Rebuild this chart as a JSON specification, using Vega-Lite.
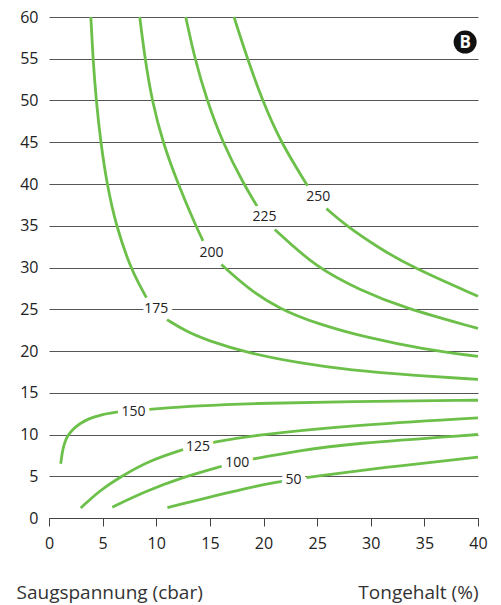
{
  "$schema": "https://vega.github.io/schema/vega-lite/v6.json",
  "width": 429,
  "height": 501,
  "autosize": {"type": "none"},
  "padding": {"left": 49, "top": 17, "right": 23, "bottom": 87},
  "background": "white",
  "config": {"view": {"stroke": null}, "font": "Open Sans"},
  "datasets": {
    "curves": [
      {"seg": "175a", "x": 3.9, "y": 60}, {"seg": "175a", "x": 4.1, "y": 55}, {"seg": "175a", "x": 4.4, "y": 50}, {"seg": "175a", "x": 4.82, "y": 45}, {"seg": "175a", "x": 5.4, "y": 40}, {"seg": "175a", "x": 6.25, "y": 35}, {"seg": "175a", "x": 7.6, "y": 30}, {"seg": "175a", "x": 8.4, "y": 28.0}, {"seg": "175a", "x": 9.08, "y": 26.4},
      {"seg": "175b", "x": 11.0, "y": 23.76}, {"seg": "175b", "x": 12.7, "y": 22.4}, {"seg": "175b", "x": 14.67, "y": 21.3}, {"seg": "175b", "x": 18.7, "y": 19.7}, {"seg": "175b", "x": 23.4, "y": 18.55}, {"seg": "175b", "x": 28, "y": 17.7}, {"seg": "175b", "x": 34.3, "y": 17.05}, {"seg": "175b", "x": 40, "y": 16.6},
      {"seg": "200a", "x": 8.46, "y": 60}, {"seg": "200a", "x": 8.95, "y": 55}, {"seg": "200a", "x": 9.6, "y": 50}, {"seg": "200a", "x": 10.6, "y": 45}, {"seg": "200a", "x": 12.03, "y": 40}, {"seg": "200a", "x": 13.68, "y": 35}, {"seg": "200a", "x": 14.36, "y": 33.2},
      {"seg": "200b", "x": 16.07, "y": 30.35}, {"seg": "200b", "x": 18.7, "y": 27.3}, {"seg": "200b", "x": 21.5, "y": 25.05}, {"seg": "200b", "x": 24.9, "y": 23.3}, {"seg": "200b", "x": 29.6, "y": 21.6}, {"seg": "200b", "x": 35, "y": 20.2}, {"seg": "200b", "x": 40, "y": 19.35},
      {"seg": "225a", "x": 12.75, "y": 60}, {"seg": "225a", "x": 13.59, "y": 55}, {"seg": "225a", "x": 14.73, "y": 50}, {"seg": "225a", "x": 16.17, "y": 45}, {"seg": "225a", "x": 18.15, "y": 40}, {"seg": "225a", "x": 19.4, "y": 37.35},
      {"seg": "225b", "x": 21.05, "y": 34.55}, {"seg": "225b", "x": 24.9, "y": 30}, {"seg": "225b", "x": 29.0, "y": 27.3}, {"seg": "225b", "x": 33.0, "y": 25.2}, {"seg": "225b", "x": 40, "y": 22.7},
      {"seg": "250a", "x": 17.25, "y": 60}, {"seg": "250a", "x": 18.5, "y": 55}, {"seg": "250a", "x": 19.9, "y": 50}, {"seg": "250a", "x": 21.6, "y": 45}, {"seg": "250a", "x": 24.1, "y": 39.8},
      {"seg": "250b", "x": 25.87, "y": 37.05}, {"seg": "250b", "x": 27.7, "y": 35}, {"seg": "250b", "x": 30.8, "y": 32.3}, {"seg": "250b", "x": 33.9, "y": 30}, {"seg": "250b", "x": 40, "y": 26.55},
      {"seg": "150a", "x": 1.09, "y": 6.5}, {"seg": "150a", "x": 1.2, "y": 7.5}, {"seg": "150a", "x": 1.31, "y": 8.35}, {"seg": "150a", "x": 1.5, "y": 9.2}, {"seg": "150a", "x": 1.77, "y": 9.9}, {"seg": "150a", "x": 2.2, "y": 10.6}, {"seg": "150a", "x": 2.86, "y": 11.3}, {"seg": "150a", "x": 3.7, "y": 11.9}, {"seg": "150a", "x": 4.73, "y": 12.35}, {"seg": "150a", "x": 6.43, "y": 12.7},
      {"seg": "150b", "x": 9.08, "y": 12.98}, {"seg": "150b", "x": 14.05, "y": 13.46}, {"seg": "150b", "x": 18.7, "y": 13.72}, {"seg": "150b", "x": 28, "y": 13.95}, {"seg": "150b", "x": 40, "y": 14.1},
      {"seg": "125a", "x": 2.96, "y": 1.2}, {"seg": "125a", "x": 4.73, "y": 3.3}, {"seg": "125a", "x": 6.75, "y": 5}, {"seg": "125a", "x": 9.39, "y": 6.9}, {"seg": "125a", "x": 12.5, "y": 8.2},
      {"seg": "125b", "x": 15.1, "y": 9.0}, {"seg": "125b", "x": 18.7, "y": 9.85}, {"seg": "125b", "x": 28, "y": 11.1}, {"seg": "125b", "x": 40, "y": 12.0},
      {"seg": "100a", "x": 5.9, "y": 1.3}, {"seg": "100a", "x": 9.0, "y": 3.2}, {"seg": "100a", "x": 12.5, "y": 4.9}, {"seg": "100a", "x": 16.1, "y": 6.2},
      {"seg": "100b", "x": 18.7, "y": 7.0}, {"seg": "100b", "x": 23.4, "y": 8.1}, {"seg": "100b", "x": 28, "y": 8.9}, {"seg": "100b", "x": 40, "y": 10.0},
      {"seg": "50a", "x": 11.04, "y": 1.25}, {"seg": "50a", "x": 18.7, "y": 3.7}, {"seg": "50a", "x": 21.8, "y": 4.4},
      {"seg": "50b", "x": 24.0, "y": 4.84}, {"seg": "50b", "x": 31.1, "y": 6.04}, {"seg": "50b", "x": 40, "y": 7.3}
    ],
    "labels": [
      {"label": "50", "x": 22.8, "y": 4.5},
      {"label": "100", "x": 17.55, "y": 6.6},
      {"label": "125", "x": 13.9, "y": 8.5},
      {"label": "150", "x": 7.87, "y": 12.75},
      {"label": "175", "x": 10.0, "y": 25.0},
      {"label": "200", "x": 15.14, "y": 31.7},
      {"label": "225", "x": 20.1, "y": 36.0},
      {"label": "250", "x": 25.1, "y": 38.5}
    ],
    "badge": [{"x": 38.8, "y": 57.0, "t": "B"}]
  },
  "layer": [
    {
      "data": {"name": "curves"},
      "mark": {"type": "line", "interpolate": "basis", "color": "#6cc04a", "strokeWidth": 2.8},
      "encoding": {
        "x": {
          "field": "x", "type": "quantitative",
          "scale": {"domain": [0, 40], "nice": false},
          "axis": {
            "values": [0, 5, 10, 15, 20, 25, 30, 35, 40],
            "grid": false, "domain": true, "domainColor": "#444", "domainWidth": 1,
            "ticks": true, "tickSize": 8, "tickColor": "#444",
            "labelFontSize": 16, "labelColor": "#222", "labelPadding": 9, "labelFlush": false,
            "title": "Tongehalt (%)", "titleFontSize": 19, "titleFontWeight": "normal", "titleColor": "#333",
            "titleAlign": "right", "titleX": 429, "titleY": 80, "titleBaseline": "alphabetic"
          }
        },
        "y": {
          "field": "y", "type": "quantitative",
          "scale": {"domain": [0, 60], "nice": false},
          "axis": {
            "values": [0, 5, 10, 15, 20, 25, 30, 35, 40, 45, 50, 55, 60],
            "grid": true, "gridColor": "#555", "gridWidth": 1,
            "domain": false, "ticks": false,
            "labelFontSize": 16, "labelColor": "#222", "labelPadding": 11,
            "title": "Saugspannung (cbar)", "titleAngle": 0, "titleAlign": "left", "titleBaseline": "alphabetic",
            "titleX": -33, "titleY": 581, "titleFontSize": 19, "titleFontWeight": "normal", "titleColor": "#333"
          }
        },
        "detail": {"field": "seg", "type": "nominal"}
      }
    },
    {
      "data": {"name": "labels"},
      "mark": {"type": "text", "fill": "white", "stroke": "white", "strokeWidth": 9, "strokeJoin": "round", "fontSize": 14, "baseline": "middle", "align": "center"},
      "encoding": {
        "x": {"field": "x", "type": "quantitative"},
        "y": {"field": "y", "type": "quantitative"},
        "text": {"field": "label"}
      }
    },
    {
      "data": {"name": "labels"},
      "mark": {"type": "text", "fill": "#222", "fontSize": 14, "baseline": "middle", "align": "center"},
      "encoding": {
        "x": {"field": "x", "type": "quantitative"},
        "y": {"field": "y", "type": "quantitative"},
        "text": {"field": "label"}
      }
    },
    {
      "data": {"name": "badge"},
      "mark": {"type": "point", "shape": "circle", "filled": true, "color": "#111", "opacity": 1, "size": 531},
      "encoding": {
        "x": {"field": "x", "type": "quantitative"},
        "y": {"field": "y", "type": "quantitative"}
      }
    },
    {
      "data": {"name": "badge"},
      "mark": {"type": "text", "color": "white", "fontWeight": "bold", "fontSize": 17, "baseline": "middle", "align": "center", "dy": 1},
      "encoding": {
        "x": {"field": "x", "type": "quantitative"},
        "y": {"field": "y", "type": "quantitative"},
        "text": {"field": "t"}
      }
    }
  ]
}
